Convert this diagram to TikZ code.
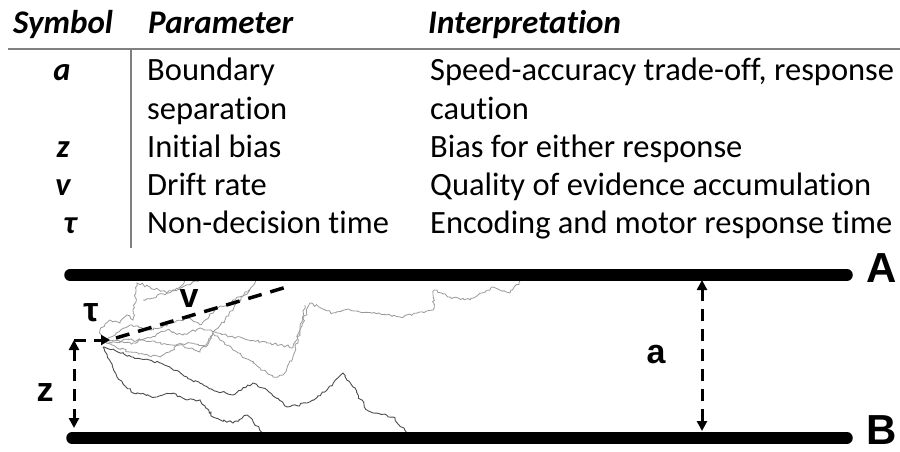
\documentclass[tikz,border=0pt]{standalone}
\usepackage{fontspec}
\setmainfont{Carlito}[Ligatures=NoCommon]
\newfontfamily\labfont{Liberation Sans}
\usetikzlibrary{arrows.meta,decorations.pathmorphing}
\tikzset{
  tbl/.style={font=\fontsize{32.5}{36}\selectfont, inner sep=0pt, anchor=base west},
  hdr/.style={font=\fontsize{33}{36}\selectfont\bfseries\itshape, inner sep=0pt, anchor=base west},
  symb/.style={font=\fontsize{32.5}{36}\selectfont\bfseries\itshape, inner sep=0pt, anchor=base},
  rule/.style={draw=black!50, line width=2.5pt},
  bound/.style={line width=11.5pt, line cap=round},
  dim/.style={line width=3pt, dash pattern=on 12pt off 8pt},
  tips/.style={{Triangle[length=10pt,width=10pt]}-{Triangle[length=10pt,width=10pt]}},
  tip/.style={-{Triangle[length=9pt,width=10pt]}},
  lab/.style={font=\labfont\bfseries\fontsize{34}{40}\selectfont, inner sep=0pt},
  biglab/.style={font=\labfont\bfseries\fontsize{42}{48}\selectfont, inner sep=0pt},
  walkd/.style={draw=black!70, line width=0.9pt, decorate, decoration={random steps, segment length=2.5pt, amplitude=1.3pt}},
  walkl/.style={draw=black!40, line width=0.8pt, decorate, decoration={random steps, segment length=2.5pt, amplitude=1.3pt}},
}
\begin{document}
\begin{tikzpicture}[x=1pt,y=-1pt]
\useasboundingbox (0,0) rectangle (900,452);
\pgfmathsetseed{7}
% table
\node[hdr] (h1) at (13,34) {Symbol};
\node[hdr] (h2) at (148,34) {Parameter};
\node[hdr] (h3) at (428,34) {Interpretation};
\coordinate (r1) at (8,49); \coordinate (r2) at (900,49);
\draw[rule] (r1) -- (r2);
\coordinate (v1) at (131,49); \coordinate (v2) at (131,248);
\draw[rule, line width=2pt] (v1) -- (v2);
\node[symb] (sa) at (62,81) {a};
\node[symb] (sz) at (63,157) {z};
\node[symb] (sv) at (63,195) {v};
\node[symb] (st) at (70,233) {τ};
\node[tbl] (p1) at (147,81) {Boundary};
\node[tbl] (p1b) at (147,119) {separation};
\node[tbl] (p2) at (147,157) {Initial bias};
\node[tbl] (p3) at (147,195) {Drift rate};
\node[tbl] (p4) at (147,233) {Non-decision time};
\node[tbl] (i1) at (430,81) {Speed-accuracy trade-off, response};
\node[tbl] (i1b) at (430,119) {caution};
\node[tbl] (i2) at (430,157) {Bias for either response};
\node[tbl] (i3) at (430,195) {Quality of evidence accumulation};
\node[tbl] (i4) at (430,233) {Encoding and motor response time};
% random walks
\draw[walkl] (104,343) -- (100,330) -- (110,320) -- (120,323) -- (127,315) -- (133,320) -- (137,283) -- (150,287) -- (167,293) -- (180,287) -- (190,274);
\draw[walkl] (143,300) -- (167,293) -- (200,280) -- (213,276);
\draw[walkl] (106,342) -- (133,343) -- (150,338) -- (167,330) -- (183,335) -- (200,328) -- (217,333) -- (233,337) -- (267,343) -- (293,347) -- (300,330) -- (310,303) -- (333,313) -- (350,310) -- (400,317) -- (433,310) -- (434,290) -- (450,297) -- (470,300) -- (493,287) -- (510,293) -- (528,272);
\draw[walkl] (106,343) -- (130,352) -- (160,357) -- (180,345) -- (200,352) -- (213,333) -- (233,350) -- (253,363) -- (273,377) -- (283,375) -- (293,357) -- (300,330) -- (305,305);
\draw[walkl] (106,341) -- (140,340) -- (173,345) -- (190,343) -- (205,347) -- (215,330) -- (225,320) -- (235,305) -- (245,295) -- (255,283) -- (262,274);
\draw[walkl] (106,340) -- (130,325) -- (150,330) -- (175,322) -- (190,318) -- (200,325) -- (215,310) -- (235,300) -- (250,290);
\draw[walkd] (103,347) -- (117,377) -- (133,393) -- (157,397) -- (173,393) -- (187,400) -- (200,400) -- (213,417) -- (233,423) -- (247,415) -- (263,433);
\draw[walkd] (103,347) -- (133,357) -- (160,363) -- (187,377) -- (213,390) -- (233,395) -- (253,383) -- (267,390) -- (287,407) -- (307,403) -- (327,390) -- (343,373) -- (353,387) -- (367,410) -- (393,417) -- (407,433);
% boundaries
\coordinate (at0) at (70,275); \coordinate (at1) at (847,275);
\coordinate (bt0) at (72,438); \coordinate (bt1) at (847,438);
\draw[bound] (at0) -- (at1);
\draw[bound] (bt0) -- (bt1);
\node[biglab] (A) at (882,268) {A};
\node[biglab] (B) at (882,430) {B};
% a arrow
\coordinate (a0) at (702,280); \coordinate (a1) at (702,431);
\draw[dim, tips] (a0) -- (a1);
\node[lab] (la) at (656,355) {a};
% z arrow
\coordinate (z0) at (74,340); \coordinate (z1) at (74,428);
\draw[dim, tips] (z0) -- (z1);
\node[lab] (lz) at (45,393) {z};
% tau arrow
\coordinate (t0) at (74,340); \coordinate (t1) at (110,340);
\draw[dim, tip] (t0) -- (t1);
\node[lab] (lt) at (91,313) {τ};
% drift
\coordinate (d0) at (116,338); \coordinate (d1) at (290,286);
\draw[dim, line width=3.5pt, dash pattern=on 14pt off 9pt] (d0) -- (d1);
\node[lab] (lv) at (189,299) {v};
\end{tikzpicture}
\end{document}
